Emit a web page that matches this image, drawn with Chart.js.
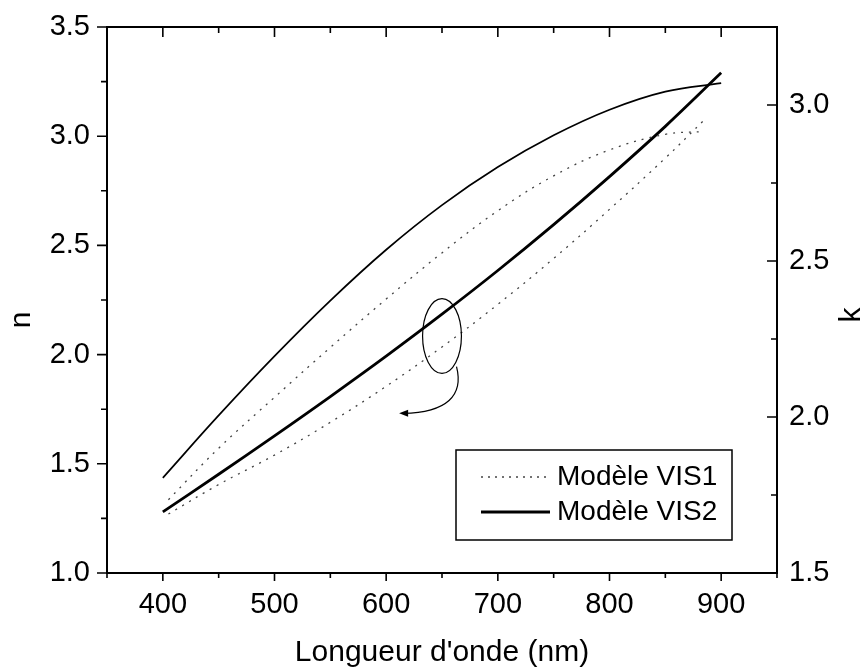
<!DOCTYPE html>
<html>
<head>
<meta charset="utf-8">
<script src="https://cdn.jsdelivr.net/npm/chart.js@4"></script>
<style>
  body { margin: 0; background: #fff; }
  canvas { display: block; }
</style>
</head>
<body>
<canvas id="graphCanvas" width="866" height="672"></canvas>
<script>
// wavelengths (nm)
const lambdaVis2 = [400, 450, 500, 550, 600, 650, 700, 750, 800, 850, 900];
const lambdaVis1 = [405, 450, 500, 550, 600, 650, 700, 750, 800, 850, 885];

// Modèle VIS2 (solid)
const nVis2 = [1.28, 1.452, 1.628, 1.808, 1.993, 2.185, 2.385, 2.595, 2.815, 3.045, 3.29];
const kVis2 = [1.805, 2.005, 2.195, 2.373, 2.536, 2.679, 2.801, 2.903, 2.985, 3.043, 3.07];

// Modèle VIS1 (dotted)
const nVis1 = [1.27, 1.405, 1.54, 1.69, 1.855, 2.035, 2.23, 2.44, 2.665, 2.9, 3.075];
const kVis1 = [1.735, 1.90, 2.063, 2.223, 2.378, 2.526, 2.661, 2.773, 2.856, 2.906, 2.915];

const xMajor = [400, 500, 600, 700, 800, 900];
const xMinor = [350, 450, 550, 650, 750, 850, 950];
const nMajor = [1.0, 1.5, 2.0, 2.5, 3.0, 3.5];
const nMinor = [1.25, 1.75, 2.25, 2.75, 3.25];
const kMajor = [1.5, 2.0, 2.5, 3.0];
const kMinor = [1.75, 2.25, 2.75, 3.25];

const legendLabels = ['Modèle VIS1', 'Modèle VIS2'];

const FONT = "'Liberation Sans', Arial, sans-serif";

function pts(xs, ys) {
    return xs.map((x, i) => ({ x: x, y: ys[i] }));
}

const dotted = { borderColor: '#444', borderWidth: 1.3, borderDash: [2, 6] };

// frame, ticks, axis titles, legend and the ellipse/arrow note
const decorations = {
    id: 'decorations',
    afterDatasetsDraw(chart) {
        const c = chart.ctx;
        const a = chart.chartArea;
        const sx = chart.scales.x, sn = chart.scales.y, sk = chart.scales.y1;
        c.save();
        c.strokeStyle = '#000';
        c.fillStyle = '#000';

        // ellipse around the n curves + arrow to the left axis
        c.lineWidth = 1.2;
        const ex = sx.getPixelForValue(650), ey = sn.getPixelForValue(2.085);
        const rx = sx.getPixelForValue(667.4) - ex;
        const ry = ey - sn.getPixelForValue(2.256);
        c.beginPath();
        c.ellipse(ex, ey, rx, ry, 0, 0, Math.PI * 2);
        c.stroke();
        const p0 = [sx.getPixelForValue(663), sn.getPixelForValue(1.945)];
        const p1 = [sx.getPixelForValue(669.6), sn.getPixelForValue(1.813)];
        const p2 = [sx.getPixelForValue(654.5), sn.getPixelForValue(1.735)];
        const p3 = [sx.getPixelForValue(611.6), sn.getPixelForValue(1.731)];
        c.beginPath();
        c.moveTo(p0[0], p0[1]);
        c.bezierCurveTo(p1[0], p1[1], p2[0], p2[1], p3[0] + 4, p3[1]);
        c.stroke();
        c.beginPath();
        c.moveTo(p3[0], p3[1]);
        c.lineTo(p3[0] + 9, p3[1] - 3.5);
        c.lineTo(p3[0] + 9, p3[1] + 3.5);
        c.closePath();
        c.fill();

        // frame
        c.lineWidth = 2;
        c.strokeRect(a.left, a.top, a.right - a.left, a.bottom - a.top);

        // ticks
        c.lineWidth = 1.6;
        c.beginPath();
        xMajor.forEach(v => {
            const p = sx.getPixelForValue(v);
            c.moveTo(p, a.bottom); c.lineTo(p, a.bottom + 8);
            c.moveTo(p, a.top); c.lineTo(p, a.top + 10);
        });
        xMinor.forEach(v => {
            const p = sx.getPixelForValue(v);
            c.moveTo(p, a.bottom); c.lineTo(p, a.bottom + 5);
            c.moveTo(p, a.top); c.lineTo(p, a.top + 6);
        });
        nMajor.forEach(v => {
            const p = sn.getPixelForValue(v);
            c.moveTo(a.left, p); c.lineTo(a.left - 10, p);
        });
        nMinor.forEach(v => {
            const p = sn.getPixelForValue(v);
            c.moveTo(a.left, p); c.lineTo(a.left - 6, p);
        });
        kMajor.forEach(v => {
            const p = sk.getPixelForValue(v);
            c.moveTo(a.right, p); c.lineTo(a.right - 10, p);
        });
        kMinor.forEach(v => {
            const p = sk.getPixelForValue(v);
            c.moveTo(a.right, p); c.lineTo(a.right - 6, p);
        });
        c.stroke();

        // y axis titles, both rotated -90
        c.font = '30px ' + FONT;
        c.textAlign = 'center';
        c.textBaseline = 'middle';
        [['n', 22, 320], ['k', 852, 315]].forEach(([t, x, y]) => {
            c.save();
            c.translate(x, y);
            c.rotate(-Math.PI / 2);
            c.fillText(t, 0, 0);
            c.restore();
        });

        // legend box
        const lx = a.right - 321, ly = a.bottom - 123;
        c.fillStyle = '#fff';
        c.fillRect(lx, ly, 276, 90);
        c.lineWidth = 1.5;
        c.strokeStyle = '#000';
        c.strokeRect(lx, ly, 276, 90);
        c.fillStyle = '#000';
        c.font = '28px ' + FONT;
        c.textAlign = 'left';
        c.textBaseline = 'middle';
        const rows = [
            { y: ly + 27, style: dotted },
            { y: ly + 62, style: { borderColor: '#000', borderWidth: 2.8, borderDash: [] } }
        ];
        rows.forEach((r, i) => {
            c.save();
            c.strokeStyle = r.style.borderColor;
            c.lineWidth = r.style.borderWidth;
            c.setLineDash(i === 0 ? [2, 5] : []);
            c.beginPath();
            c.moveTo(lx + 25, r.y);
            c.lineTo(lx + 94, r.y);
            c.stroke();
            c.restore();
            c.fillText(legendLabels[i], lx + 101, r.y);
        });
        c.restore();
    }
};

const tickFont = { family: FONT, size: 29 };

new Chart(document.getElementById('graphCanvas'), {
    type: 'line',
    data: {
        datasets: [
            Object.assign({ label: 'n VIS1', data: pts(lambdaVis1, nVis1), yAxisID: 'y' }, dotted),
            Object.assign({ label: 'k VIS1', data: pts(lambdaVis1, kVis1), yAxisID: 'y1' }, dotted),
            { label: 'n VIS2', data: pts(lambdaVis2, nVis2), yAxisID: 'y', borderColor: '#000', borderWidth: 2.8 },
            { label: 'k VIS2', data: pts(lambdaVis2, kVis2), yAxisID: 'y1', borderColor: '#000', borderWidth: 1.7 }
        ]
    },
    options: {
        responsive: false,
        animation: false,
        elements: { point: { radius: 0 }, line: { tension: 0.4 } },
        layout: { padding: { top: 27, left: 0, right: 0, bottom: 0 } },
        plugins: {
            legend: { display: false },
            tooltip: { enabled: false }
        },
        scales: {
            x: {
                type: 'linear',
                min: 350,
                max: 950,
                afterBuildTicks: s => { s.ticks = xMajor.map(v => ({ value: v })); },
                afterFit: s => { s.height = 99; s.paddingLeft = 0; s.paddingRight = 0; },
                grid: { display: false, drawTicks: false },
                border: { display: false },
                ticks: { padding: 15, color: '#000', font: tickFont },
                title: {
                    display: true,
                    text: "Longueur d'onde (nm)",
                    color: '#000',
                    font: { family: FONT, size: 30 },
                    padding: { top: 0, bottom: 1.5 }
                }
            },
            y: {
                position: 'left',
                min: 1.0,
                max: 3.5,
                afterBuildTicks: s => { s.ticks = nMajor.map(v => ({ value: v })); },
                afterFit: s => { s.width = 107; s.paddingTop = 0; s.paddingBottom = 0; },
                grid: { display: false, drawTicks: false },
                border: { display: false },
                ticks: {
                    padding: 17, color: '#000', font: tickFont,
                    callback: v => v.toFixed(1)
                }
            },
            y1: {
                position: 'right',
                min: 1.5,
                max: 3.25,
                afterBuildTicks: s => { s.ticks = kMajor.map(v => ({ value: v })); },
                afterFit: s => { s.width = 89; s.paddingTop = 0; s.paddingBottom = 0; },
                grid: { display: false, drawTicks: false },
                border: { display: false },
                ticks: {
                    padding: 12, color: '#000', font: tickFont,
                    callback: v => v.toFixed(1)
                }
            }
        }
    },
    plugins: [decorations]
});
</script>
</body>
</html>
